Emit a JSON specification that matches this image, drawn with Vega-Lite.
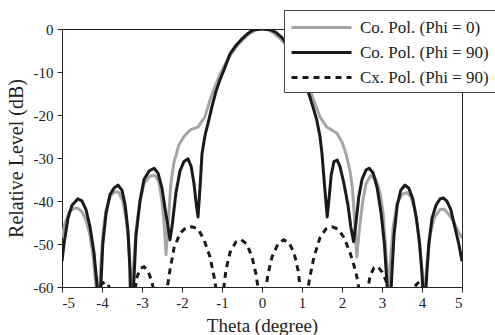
{
  "$schema": "https://vega.github.io/schema/vega-lite/v6.json",
  "width": 400,
  "height": 258,
  "autosize": "none",
  "padding": {"left": 62, "top": 29, "right": 33, "bottom": 48},
  "background": "white",
  "config": {
    "view": {"stroke": "#222", "strokeWidth": 1},
    "font": "Liberation Serif",
    "axis": {
      "grid": false,
      "domainColor": "#222",
      "tickColor": "#222",
      "tickSize": 5,
      "labelFont": "Liberation Serif",
      "labelFontSize": 15,
      "labelColor": "#222",
      "titleFont": "Liberation Serif",
      "titleFontWeight": "normal",
      "titleColor": "#222"
    },
    "legend": {
      "symbolType": "M-1,0H5",
      "symbolSize": 400,
      "symbolStrokeWidth": 3,
      "labelFont": "Liberation Serif",
      "labelFontSize": 17,
      "labelColor": "#222",
      "labelOffset": 47,
      "labelLimit": 300,
      "rowPadding": 5,
      "padding": 6,
      "strokeColor": "#444",
      "fillColor": "white"
    }
  },
  "datasets": {
    "curves": [
      {"s": "Co. Pol. (Phi = 0)", "t": -5.0, "v": -48.5},
      {"s": "Co. Pol. (Phi = 0)", "t": -4.92, "v": -45},
      {"s": "Co. Pol. (Phi = 0)", "t": -4.82, "v": -42.5},
      {"s": "Co. Pol. (Phi = 0)", "t": -4.7, "v": -41.7},
      {"s": "Co. Pol. (Phi = 0)", "t": -4.6, "v": -41.7},
      {"s": "Co. Pol. (Phi = 0)", "t": -4.5, "v": -42.5},
      {"s": "Co. Pol. (Phi = 0)", "t": -4.4, "v": -44.5},
      {"s": "Co. Pol. (Phi = 0)", "t": -4.3, "v": -48},
      {"s": "Co. Pol. (Phi = 0)", "t": -4.22, "v": -53},
      {"s": "Co. Pol. (Phi = 0)", "t": -4.15, "v": -60},
      {"s": "Co. Pol. (Phi = 0)", "t": -4.1, "v": -65},
      {"s": "Co. Pol. (Phi = 0)", "t": -4.05, "v": -58},
      {"s": "Co. Pol. (Phi = 0)", "t": -3.98, "v": -48},
      {"s": "Co. Pol. (Phi = 0)", "t": -3.9, "v": -42},
      {"s": "Co. Pol. (Phi = 0)", "t": -3.8, "v": -39},
      {"s": "Co. Pol. (Phi = 0)", "t": -3.68, "v": -37.8},
      {"s": "Co. Pol. (Phi = 0)", "t": -3.58, "v": -38},
      {"s": "Co. Pol. (Phi = 0)", "t": -3.48, "v": -40},
      {"s": "Co. Pol. (Phi = 0)", "t": -3.4, "v": -44},
      {"s": "Co. Pol. (Phi = 0)", "t": -3.33, "v": -50},
      {"s": "Co. Pol. (Phi = 0)", "t": -3.28, "v": -62},
      {"s": "Co. Pol. (Phi = 0)", "t": -3.22, "v": -56},
      {"s": "Co. Pol. (Phi = 0)", "t": -3.15, "v": -47},
      {"s": "Co. Pol. (Phi = 0)", "t": -3.05, "v": -40},
      {"s": "Co. Pol. (Phi = 0)", "t": -2.95, "v": -36},
      {"s": "Co. Pol. (Phi = 0)", "t": -2.8, "v": -34.2},
      {"s": "Co. Pol. (Phi = 0)", "t": -2.68, "v": -34},
      {"s": "Co. Pol. (Phi = 0)", "t": -2.58, "v": -35.5},
      {"s": "Co. Pol. (Phi = 0)", "t": -2.5, "v": -40},
      {"s": "Co. Pol. (Phi = 0)", "t": -2.44, "v": -46},
      {"s": "Co. Pol. (Phi = 0)", "t": -2.4, "v": -52.5},
      {"s": "Co. Pol. (Phi = 0)", "t": -2.35, "v": -46},
      {"s": "Co. Pol. (Phi = 0)", "t": -2.28, "v": -36},
      {"s": "Co. Pol. (Phi = 0)", "t": -2.2, "v": -31},
      {"s": "Co. Pol. (Phi = 0)", "t": -2.08, "v": -27},
      {"s": "Co. Pol. (Phi = 0)", "t": -1.95, "v": -25},
      {"s": "Co. Pol. (Phi = 0)", "t": -1.8, "v": -23.5},
      {"s": "Co. Pol. (Phi = 0)", "t": -1.6, "v": -22.8},
      {"s": "Co. Pol. (Phi = 0)", "t": -1.43, "v": -20.5},
      {"s": "Co. Pol. (Phi = 0)", "t": -1.3, "v": -16.5},
      {"s": "Co. Pol. (Phi = 0)", "t": -1.2, "v": -14},
      {"s": "Co. Pol. (Phi = 0)", "t": -1.06, "v": -10.7},
      {"s": "Co. Pol. (Phi = 0)", "t": -0.9, "v": -7.8},
      {"s": "Co. Pol. (Phi = 0)", "t": -0.75, "v": -5.5},
      {"s": "Co. Pol. (Phi = 0)", "t": -0.6, "v": -3.7},
      {"s": "Co. Pol. (Phi = 0)", "t": -0.45, "v": -2.2},
      {"s": "Co. Pol. (Phi = 0)", "t": -0.3, "v": -1},
      {"s": "Co. Pol. (Phi = 0)", "t": -0.15, "v": -0.2},
      {"s": "Co. Pol. (Phi = 0)", "t": 0, "v": 0},
      {"s": "Co. Pol. (Phi = 0)", "t": 0.15, "v": -0.2},
      {"s": "Co. Pol. (Phi = 0)", "t": 0.3, "v": -1},
      {"s": "Co. Pol. (Phi = 0)", "t": 0.45, "v": -2.2},
      {"s": "Co. Pol. (Phi = 0)", "t": 0.6, "v": -3.7},
      {"s": "Co. Pol. (Phi = 0)", "t": 0.8, "v": -6.3},
      {"s": "Co. Pol. (Phi = 0)", "t": 1.0, "v": -9.8},
      {"s": "Co. Pol. (Phi = 0)", "t": 1.15, "v": -13},
      {"s": "Co. Pol. (Phi = 0)", "t": 1.32, "v": -17.2},
      {"s": "Co. Pol. (Phi = 0)", "t": 1.45, "v": -20.5},
      {"s": "Co. Pol. (Phi = 0)", "t": 1.62, "v": -22.8},
      {"s": "Co. Pol. (Phi = 0)", "t": 1.87, "v": -24.2},
      {"s": "Co. Pol. (Phi = 0)", "t": 2.0, "v": -26.3},
      {"s": "Co. Pol. (Phi = 0)", "t": 2.1, "v": -29},
      {"s": "Co. Pol. (Phi = 0)", "t": 2.2, "v": -33},
      {"s": "Co. Pol. (Phi = 0)", "t": 2.26, "v": -37},
      {"s": "Co. Pol. (Phi = 0)", "t": 2.32, "v": -45},
      {"s": "Co. Pol. (Phi = 0)", "t": 2.37, "v": -53},
      {"s": "Co. Pol. (Phi = 0)", "t": 2.44, "v": -46},
      {"s": "Co. Pol. (Phi = 0)", "t": 2.52, "v": -40},
      {"s": "Co. Pol. (Phi = 0)", "t": 2.6, "v": -36},
      {"s": "Co. Pol. (Phi = 0)", "t": 2.72, "v": -34},
      {"s": "Co. Pol. (Phi = 0)", "t": 2.85, "v": -35},
      {"s": "Co. Pol. (Phi = 0)", "t": 2.95, "v": -38},
      {"s": "Co. Pol. (Phi = 0)", "t": 3.03, "v": -43},
      {"s": "Co. Pol. (Phi = 0)", "t": 3.1, "v": -52},
      {"s": "Co. Pol. (Phi = 0)", "t": 3.15, "v": -62},
      {"s": "Co. Pol. (Phi = 0)", "t": 3.2, "v": -55},
      {"s": "Co. Pol. (Phi = 0)", "t": 3.28, "v": -46},
      {"s": "Co. Pol. (Phi = 0)", "t": 3.38, "v": -40.5},
      {"s": "Co. Pol. (Phi = 0)", "t": 3.5, "v": -38.5},
      {"s": "Co. Pol. (Phi = 0)", "t": 3.62, "v": -38},
      {"s": "Co. Pol. (Phi = 0)", "t": 3.72, "v": -39},
      {"s": "Co. Pol. (Phi = 0)", "t": 3.82, "v": -42},
      {"s": "Co. Pol. (Phi = 0)", "t": 3.92, "v": -48},
      {"s": "Co. Pol. (Phi = 0)", "t": 4.0, "v": -56},
      {"s": "Co. Pol. (Phi = 0)", "t": 4.05, "v": -63},
      {"s": "Co. Pol. (Phi = 0)", "t": 4.12, "v": -55},
      {"s": "Co. Pol. (Phi = 0)", "t": 4.2, "v": -48},
      {"s": "Co. Pol. (Phi = 0)", "t": 4.3, "v": -44},
      {"s": "Co. Pol. (Phi = 0)", "t": 4.45, "v": -42},
      {"s": "Co. Pol. (Phi = 0)", "t": 4.57, "v": -42},
      {"s": "Co. Pol. (Phi = 0)", "t": 4.7, "v": -43.5},
      {"s": "Co. Pol. (Phi = 0)", "t": 4.8, "v": -45},
      {"s": "Co. Pol. (Phi = 0)", "t": 4.9, "v": -47},
      {"s": "Co. Pol. (Phi = 0)", "t": 5.0, "v": -48.6},

      {"s": "Co. Pol. (Phi = 90)", "t": -5.0, "v": -54},
      {"s": "Co. Pol. (Phi = 90)", "t": -4.95, "v": -50},
      {"s": "Co. Pol. (Phi = 90)", "t": -4.85, "v": -44},
      {"s": "Co. Pol. (Phi = 90)", "t": -4.75, "v": -41},
      {"s": "Co. Pol. (Phi = 90)", "t": -4.6, "v": -39.5},
      {"s": "Co. Pol. (Phi = 90)", "t": -4.5, "v": -40},
      {"s": "Co. Pol. (Phi = 90)", "t": -4.4, "v": -42},
      {"s": "Co. Pol. (Phi = 90)", "t": -4.3, "v": -46},
      {"s": "Co. Pol. (Phi = 90)", "t": -4.2, "v": -52},
      {"s": "Co. Pol. (Phi = 90)", "t": -4.12, "v": -60},
      {"s": "Co. Pol. (Phi = 90)", "t": -4.08, "v": -70},
      {"s": "Co. Pol. (Phi = 90)", "t": -4.03, "v": -60},
      {"s": "Co. Pol. (Phi = 90)", "t": -3.98, "v": -50},
      {"s": "Co. Pol. (Phi = 90)", "t": -3.9, "v": -43},
      {"s": "Co. Pol. (Phi = 90)", "t": -3.8, "v": -38.5},
      {"s": "Co. Pol. (Phi = 90)", "t": -3.7, "v": -37},
      {"s": "Co. Pol. (Phi = 90)", "t": -3.6, "v": -36.3},
      {"s": "Co. Pol. (Phi = 90)", "t": -3.5, "v": -37.5},
      {"s": "Co. Pol. (Phi = 90)", "t": -3.42, "v": -41},
      {"s": "Co. Pol. (Phi = 90)", "t": -3.35, "v": -47},
      {"s": "Co. Pol. (Phi = 90)", "t": -3.3, "v": -56},
      {"s": "Co. Pol. (Phi = 90)", "t": -3.27, "v": -70},
      {"s": "Co. Pol. (Phi = 90)", "t": -3.2, "v": -58},
      {"s": "Co. Pol. (Phi = 90)", "t": -3.15, "v": -48},
      {"s": "Co. Pol. (Phi = 90)", "t": -3.05, "v": -40},
      {"s": "Co. Pol. (Phi = 90)", "t": -2.95, "v": -35},
      {"s": "Co. Pol. (Phi = 90)", "t": -2.82, "v": -33},
      {"s": "Co. Pol. (Phi = 90)", "t": -2.7, "v": -32.4},
      {"s": "Co. Pol. (Phi = 90)", "t": -2.6, "v": -33.5},
      {"s": "Co. Pol. (Phi = 90)", "t": -2.5, "v": -37},
      {"s": "Co. Pol. (Phi = 90)", "t": -2.42, "v": -42},
      {"s": "Co. Pol. (Phi = 90)", "t": -2.35, "v": -46},
      {"s": "Co. Pol. (Phi = 90)", "t": -2.3, "v": -49},
      {"s": "Co. Pol. (Phi = 90)", "t": -2.25, "v": -46},
      {"s": "Co. Pol. (Phi = 90)", "t": -2.15, "v": -38},
      {"s": "Co. Pol. (Phi = 90)", "t": -2.05, "v": -33},
      {"s": "Co. Pol. (Phi = 90)", "t": -1.95, "v": -30.8},
      {"s": "Co. Pol. (Phi = 90)", "t": -1.85, "v": -30.2},
      {"s": "Co. Pol. (Phi = 90)", "t": -1.77, "v": -32},
      {"s": "Co. Pol. (Phi = 90)", "t": -1.7, "v": -36},
      {"s": "Co. Pol. (Phi = 90)", "t": -1.64, "v": -41},
      {"s": "Co. Pol. (Phi = 90)", "t": -1.6, "v": -43.7},
      {"s": "Co. Pol. (Phi = 90)", "t": -1.55, "v": -37},
      {"s": "Co. Pol. (Phi = 90)", "t": -1.5, "v": -29},
      {"s": "Co. Pol. (Phi = 90)", "t": -1.42, "v": -24.5},
      {"s": "Co. Pol. (Phi = 90)", "t": -1.35, "v": -22},
      {"s": "Co. Pol. (Phi = 90)", "t": -1.25, "v": -18},
      {"s": "Co. Pol. (Phi = 90)", "t": -1.15, "v": -14.5},
      {"s": "Co. Pol. (Phi = 90)", "t": -1.05, "v": -11.8},
      {"s": "Co. Pol. (Phi = 90)", "t": -0.95, "v": -9.5},
      {"s": "Co. Pol. (Phi = 90)", "t": -0.8, "v": -5.8},
      {"s": "Co. Pol. (Phi = 90)", "t": -0.65, "v": -3.8},
      {"s": "Co. Pol. (Phi = 90)", "t": -0.5, "v": -2.3},
      {"s": "Co. Pol. (Phi = 90)", "t": -0.35, "v": -1},
      {"s": "Co. Pol. (Phi = 90)", "t": -0.22, "v": -0.2},
      {"s": "Co. Pol. (Phi = 90)", "t": 0, "v": 0},
      {"s": "Co. Pol. (Phi = 90)", "t": 0.22, "v": -0.2},
      {"s": "Co. Pol. (Phi = 90)", "t": 0.35, "v": -0.8},
      {"s": "Co. Pol. (Phi = 90)", "t": 0.5, "v": -2},
      {"s": "Co. Pol. (Phi = 90)", "t": 0.6, "v": -3.3},
      {"s": "Co. Pol. (Phi = 90)", "t": 0.75, "v": -5.5},
      {"s": "Co. Pol. (Phi = 90)", "t": 0.9, "v": -8.5},
      {"s": "Co. Pol. (Phi = 90)", "t": 1.05, "v": -12},
      {"s": "Co. Pol. (Phi = 90)", "t": 1.17, "v": -15},
      {"s": "Co. Pol. (Phi = 90)", "t": 1.27, "v": -18},
      {"s": "Co. Pol. (Phi = 90)", "t": 1.37, "v": -21.2},
      {"s": "Co. Pol. (Phi = 90)", "t": 1.45, "v": -25},
      {"s": "Co. Pol. (Phi = 90)", "t": 1.5, "v": -29},
      {"s": "Co. Pol. (Phi = 90)", "t": 1.56, "v": -36},
      {"s": "Co. Pol. (Phi = 90)", "t": 1.63, "v": -43.7},
      {"s": "Co. Pol. (Phi = 90)", "t": 1.68, "v": -39},
      {"s": "Co. Pol. (Phi = 90)", "t": 1.73, "v": -34},
      {"s": "Co. Pol. (Phi = 90)", "t": 1.8, "v": -30.8},
      {"s": "Co. Pol. (Phi = 90)", "t": 1.88, "v": -30.5},
      {"s": "Co. Pol. (Phi = 90)", "t": 1.95, "v": -32},
      {"s": "Co. Pol. (Phi = 90)", "t": 2.05, "v": -36},
      {"s": "Co. Pol. (Phi = 90)", "t": 2.15, "v": -41},
      {"s": "Co. Pol. (Phi = 90)", "t": 2.22, "v": -46},
      {"s": "Co. Pol. (Phi = 90)", "t": 2.29, "v": -49.5},
      {"s": "Co. Pol. (Phi = 90)", "t": 2.35, "v": -45},
      {"s": "Co. Pol. (Phi = 90)", "t": 2.42, "v": -39},
      {"s": "Co. Pol. (Phi = 90)", "t": 2.5, "v": -35},
      {"s": "Co. Pol. (Phi = 90)", "t": 2.6, "v": -32.8},
      {"s": "Co. Pol. (Phi = 90)", "t": 2.68, "v": -32.4},
      {"s": "Co. Pol. (Phi = 90)", "t": 2.78, "v": -33.5},
      {"s": "Co. Pol. (Phi = 90)", "t": 2.88, "v": -37},
      {"s": "Co. Pol. (Phi = 90)", "t": 2.98, "v": -43},
      {"s": "Co. Pol. (Phi = 90)", "t": 3.06, "v": -50},
      {"s": "Co. Pol. (Phi = 90)", "t": 3.13, "v": -60},
      {"s": "Co. Pol. (Phi = 90)", "t": 3.18, "v": -70},
      {"s": "Co. Pol. (Phi = 90)", "t": 3.23, "v": -60},
      {"s": "Co. Pol. (Phi = 90)", "t": 3.3, "v": -48},
      {"s": "Co. Pol. (Phi = 90)", "t": 3.38, "v": -41},
      {"s": "Co. Pol. (Phi = 90)", "t": 3.47, "v": -37.5},
      {"s": "Co. Pol. (Phi = 90)", "t": 3.57, "v": -36.3},
      {"s": "Co. Pol. (Phi = 90)", "t": 3.67, "v": -37},
      {"s": "Co. Pol. (Phi = 90)", "t": 3.77, "v": -39.5},
      {"s": "Co. Pol. (Phi = 90)", "t": 3.86, "v": -44},
      {"s": "Co. Pol. (Phi = 90)", "t": 3.94, "v": -50},
      {"s": "Co. Pol. (Phi = 90)", "t": 4.0, "v": -57},
      {"s": "Co. Pol. (Phi = 90)", "t": 4.05, "v": -65},
      {"s": "Co. Pol. (Phi = 90)", "t": 4.1, "v": -60},
      {"s": "Co. Pol. (Phi = 90)", "t": 4.17, "v": -50},
      {"s": "Co. Pol. (Phi = 90)", "t": 4.25, "v": -44},
      {"s": "Co. Pol. (Phi = 90)", "t": 4.35, "v": -41},
      {"s": "Co. Pol. (Phi = 90)", "t": 4.45, "v": -39.5},
      {"s": "Co. Pol. (Phi = 90)", "t": 4.53, "v": -39.3},
      {"s": "Co. Pol. (Phi = 90)", "t": 4.62, "v": -40},
      {"s": "Co. Pol. (Phi = 90)", "t": 4.72, "v": -42},
      {"s": "Co. Pol. (Phi = 90)", "t": 4.82, "v": -46},
      {"s": "Co. Pol. (Phi = 90)", "t": 4.92, "v": -50},
      {"s": "Co. Pol. (Phi = 90)", "t": 5.0, "v": -54},

      {"s": "Cx. Pol. (Phi = 90)", "t": -5.0, "v": -75},
      {"s": "Cx. Pol. (Phi = 90)", "t": -4.5, "v": -75},
      {"s": "Cx. Pol. (Phi = 90)", "t": -4.12, "v": -62},
      {"s": "Cx. Pol. (Phi = 90)", "t": -4.03, "v": -59.5},
      {"s": "Cx. Pol. (Phi = 90)", "t": -3.93, "v": -58.8},
      {"s": "Cx. Pol. (Phi = 90)", "t": -3.84, "v": -59.5},
      {"s": "Cx. Pol. (Phi = 90)", "t": -3.76, "v": -62},
      {"s": "Cx. Pol. (Phi = 90)", "t": -3.55, "v": -75},
      {"s": "Cx. Pol. (Phi = 90)", "t": -3.2, "v": -62},
      {"s": "Cx. Pol. (Phi = 90)", "t": -3.12, "v": -57.5},
      {"s": "Cx. Pol. (Phi = 90)", "t": -3.03, "v": -55.6},
      {"s": "Cx. Pol. (Phi = 90)", "t": -2.95, "v": -55.3},
      {"s": "Cx. Pol. (Phi = 90)", "t": -2.85, "v": -56.3},
      {"s": "Cx. Pol. (Phi = 90)", "t": -2.76, "v": -58.5},
      {"s": "Cx. Pol. (Phi = 90)", "t": -2.68, "v": -62},
      {"s": "Cx. Pol. (Phi = 90)", "t": -2.55, "v": -72},
      {"s": "Cx. Pol. (Phi = 90)", "t": -2.4, "v": -62},
      {"s": "Cx. Pol. (Phi = 90)", "t": -2.3, "v": -56},
      {"s": "Cx. Pol. (Phi = 90)", "t": -2.2, "v": -51},
      {"s": "Cx. Pol. (Phi = 90)", "t": -2.05, "v": -47.5},
      {"s": "Cx. Pol. (Phi = 90)", "t": -1.9, "v": -46.2},
      {"s": "Cx. Pol. (Phi = 90)", "t": -1.75, "v": -46},
      {"s": "Cx. Pol. (Phi = 90)", "t": -1.6, "v": -46.5},
      {"s": "Cx. Pol. (Phi = 90)", "t": -1.45, "v": -49},
      {"s": "Cx. Pol. (Phi = 90)", "t": -1.3, "v": -53},
      {"s": "Cx. Pol. (Phi = 90)", "t": -1.2, "v": -57.5},
      {"s": "Cx. Pol. (Phi = 90)", "t": -1.12, "v": -62},
      {"s": "Cx. Pol. (Phi = 90)", "t": -1.05, "v": -70},
      {"s": "Cx. Pol. (Phi = 90)", "t": -0.98, "v": -62},
      {"s": "Cx. Pol. (Phi = 90)", "t": -0.9, "v": -56},
      {"s": "Cx. Pol. (Phi = 90)", "t": -0.8, "v": -52},
      {"s": "Cx. Pol. (Phi = 90)", "t": -0.65, "v": -49.5},
      {"s": "Cx. Pol. (Phi = 90)", "t": -0.52, "v": -49},
      {"s": "Cx. Pol. (Phi = 90)", "t": -0.38, "v": -50},
      {"s": "Cx. Pol. (Phi = 90)", "t": -0.25, "v": -53},
      {"s": "Cx. Pol. (Phi = 90)", "t": -0.15, "v": -57},
      {"s": "Cx. Pol. (Phi = 90)", "t": -0.07, "v": -62},
      {"s": "Cx. Pol. (Phi = 90)", "t": 0, "v": -70},
      {"s": "Cx. Pol. (Phi = 90)", "t": 0.07, "v": -62},
      {"s": "Cx. Pol. (Phi = 90)", "t": 0.15, "v": -57},
      {"s": "Cx. Pol. (Phi = 90)", "t": 0.25, "v": -53},
      {"s": "Cx. Pol. (Phi = 90)", "t": 0.4, "v": -50},
      {"s": "Cx. Pol. (Phi = 90)", "t": 0.54, "v": -49},
      {"s": "Cx. Pol. (Phi = 90)", "t": 0.68, "v": -49.8},
      {"s": "Cx. Pol. (Phi = 90)", "t": 0.8, "v": -52},
      {"s": "Cx. Pol. (Phi = 90)", "t": 0.9, "v": -56},
      {"s": "Cx. Pol. (Phi = 90)", "t": 0.98, "v": -62},
      {"s": "Cx. Pol. (Phi = 90)", "t": 1.05, "v": -70},
      {"s": "Cx. Pol. (Phi = 90)", "t": 1.12, "v": -62},
      {"s": "Cx. Pol. (Phi = 90)", "t": 1.2, "v": -57.5},
      {"s": "Cx. Pol. (Phi = 90)", "t": 1.3, "v": -53},
      {"s": "Cx. Pol. (Phi = 90)", "t": 1.45, "v": -48.5},
      {"s": "Cx. Pol. (Phi = 90)", "t": 1.6, "v": -46.5},
      {"s": "Cx. Pol. (Phi = 90)", "t": 1.75, "v": -46},
      {"s": "Cx. Pol. (Phi = 90)", "t": 1.9, "v": -46.5},
      {"s": "Cx. Pol. (Phi = 90)", "t": 2.05, "v": -48.5},
      {"s": "Cx. Pol. (Phi = 90)", "t": 2.2, "v": -52},
      {"s": "Cx. Pol. (Phi = 90)", "t": 2.3, "v": -55},
      {"s": "Cx. Pol. (Phi = 90)", "t": 2.38, "v": -58},
      {"s": "Cx. Pol. (Phi = 90)", "t": 2.45, "v": -62},
      {"s": "Cx. Pol. (Phi = 90)", "t": 2.55, "v": -72},
      {"s": "Cx. Pol. (Phi = 90)", "t": 2.62, "v": -62},
      {"s": "Cx. Pol. (Phi = 90)", "t": 2.7, "v": -57.5},
      {"s": "Cx. Pol. (Phi = 90)", "t": 2.8, "v": -55.5},
      {"s": "Cx. Pol. (Phi = 90)", "t": 2.9, "v": -55.3},
      {"s": "Cx. Pol. (Phi = 90)", "t": 3.0, "v": -56.5},
      {"s": "Cx. Pol. (Phi = 90)", "t": 3.1, "v": -58.5},
      {"s": "Cx. Pol. (Phi = 90)", "t": 3.2, "v": -62},
      {"s": "Cx. Pol. (Phi = 90)", "t": 3.5, "v": -75},
      {"s": "Cx. Pol. (Phi = 90)", "t": 3.78, "v": -62},
      {"s": "Cx. Pol. (Phi = 90)", "t": 3.85, "v": -59.5},
      {"s": "Cx. Pol. (Phi = 90)", "t": 3.93, "v": -58.8},
      {"s": "Cx. Pol. (Phi = 90)", "t": 4.0, "v": -59.5},
      {"s": "Cx. Pol. (Phi = 90)", "t": 4.08, "v": -62},
      {"s": "Cx. Pol. (Phi = 90)", "t": 4.5, "v": -75},
      {"s": "Cx. Pol. (Phi = 90)", "t": 5.0, "v": -75}
    ]
  },
  "data": {"name": "curves"},
  "encoding": {
    "x": {
      "field": "t", "type": "quantitative",
      "scale": {"domain": [-5, 5], "nice": false},
      "axis": {
        "values": [-5, -4, -3, -2, -1, 0, 1, 2, 3, 4, 5],
        "labelExpr": "datum.value < 0 ? '-' + abs(datum.value) : '' + datum.value",
        "labelPadding": 3,
        "title": "Theta (degree)",
        "titleFontSize": 19,
        "titleBaseline": "alphabetic",
        "titleY": 44
      }
    },
    "y": {
      "field": "v", "type": "quantitative",
      "scale": {"domain": [-60, 0], "nice": false},
      "axis": {
        "values": [-60, -50, -40, -30, -20, -10, 0],
        "labelExpr": "datum.value < 0 ? '-' + abs(datum.value) : '' + datum.value",
        "labelPadding": 4,
        "title": "Relative Level (dB)",
        "titleFontSize": 20,
        "titleAngle": -90,
        "titleAlign": "center",
        "titleBaseline": "middle",
        "titleX": -46,
        "titleY": 129
      }
    },
    "color": {
      "field": "s", "type": "nominal",
      "scale": {
        "domain": ["Co. Pol. (Phi = 0)", "Co. Pol. (Phi = 90)", "Cx. Pol. (Phi = 90)"],
        "range": ["#a3a7ab", "#1a1a1a", "#1a1a1a"]
      },
      "legend": {"title": null, "orient": "none", "legendX": 222, "legendY": -19}
    },
    "strokeDash": {
      "field": "s", "type": "nominal",
      "scale": {
        "domain": ["Co. Pol. (Phi = 0)", "Co. Pol. (Phi = 90)", "Cx. Pol. (Phi = 90)"],
        "range": [[1, 0], [1, 0], [6, 5]]
      },
      "legend": {"title": null, "orient": "none", "legendX": 222, "legendY": -19}
    }
  },
  "layer": [
    {
      "transform": [{"filter": "datum.s === 'Co. Pol. (Phi = 0)'"}],
      "mark": {"type": "line", "clip": true, "strokeWidth": 3, "strokeJoin": "round"}
    },
    {
      "transform": [{"filter": "datum.s === 'Co. Pol. (Phi = 90)'"}],
      "mark": {"type": "line", "clip": true, "strokeWidth": 3, "strokeJoin": "round"}
    },
    {
      "transform": [{"filter": "datum.s === 'Cx. Pol. (Phi = 90)'"}],
      "mark": {"type": "line", "clip": true, "strokeWidth": 3}
    }
  ]
}
